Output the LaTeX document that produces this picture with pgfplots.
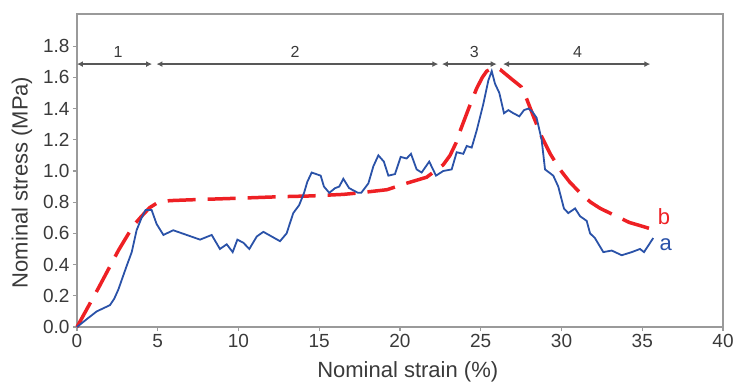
\documentclass[border=0pt]{standalone}
\usepackage{pgfplots}
\pgfplotsset{compat=1.18}
\usepackage{fontspec}
\setmainfont{Liberation Sans}
\usetikzlibrary{arrows.meta}
\definecolor{cblue}{HTML}{2A52A8}
\definecolor{cred}{HTML}{EE2024}
\definecolor{ctext}{HTML}{3A3A3A}
\definecolor{cframe}{HTML}{9A9A9A}
\begin{document}
\begin{tikzpicture}
\begin{axis}[
  at={(0,0)}, anchor=south west,
  scale only axis, width=646pt, height=313pt,
  xmin=0, xmax=40, ymin=0, ymax=2.006,
  xtick={0,5,...,40}, ytick={0,0.2,...,1.8},
  yticklabel style={/pgf/number format/.cd,fixed,fixed zerofill,precision=1},
  /pgf/number format/assume math mode=true,
  tick label style={font=\fontsize{19}{22}\selectfont, text=ctext},
  axis line style={cframe, line width=1.4pt},
  tick style={cframe, line width=1.2pt},
  tick align=outside, major tick length=4pt,
  xtick pos=bottom, ytick pos=left,
  xlabel={Nominal strain (\%)},
  ylabel={Nominal stress (MPa)},
  label style={font=\fontsize{22}{26}\selectfont, text=ctext},
  xlabel style={at={(axis description cs:0.512,-0.144)}, anchor=center},
  ylabel style={at={(axis description cs:-0.0851,0.462)}, anchor=center},
  clip=false,
]
\addplot[cred, line width=3.5pt, dash pattern=on 28pt off 12pt] coordinates {
(0,0)(1.33,0.25)(2.56,0.49)(3.49,0.65)(4.0,0.71)(4.5,0.765)(5.04,0.80)(5.76,0.81)
(7,0.815)(9.9,0.825)(12.57,0.835)(14.5,0.84)(16.5,0.85)(17.5,0.86)(19.2,0.88)
(20.2,0.915)(21.65,0.96)(22.68,1.04)(23.1,1.10)(23.47,1.18)(23.7,1.25)(24.25,1.40)
(24.75,1.53)(25.1,1.60)(25.37,1.64)(25.78,1.66)(26.2,1.65)(26.9,1.59)(27.5,1.54)
(27.85,1.46)(28.3,1.34)(28.77,1.22)(29.3,1.11)(29.9,1.01)(30.5,0.93)(31.15,0.86)
(31.8,0.80)(32.4,0.76)(33.0,0.73)(33.6,0.70)(34.2,0.67)(34.86,0.65)(35.5,0.63)(36.0,0.62)
};
\addplot[cblue, line width=1.8pt] coordinates {
(0,0)(0.6,0.05)(1.22,0.10)(2.04,0.14)(2.3,0.18)(2.56,0.24)(3.07,0.39)(3.39,0.48)
(3.69,0.62)(4.0,0.70)(4.25,0.75)(4.62,0.75)(4.93,0.66)(5.35,0.59)(5.96,0.62)
(6.79,0.59)(7.62,0.56)(8.34,0.59)(8.85,0.50)(9.27,0.53)(9.64,0.48)(9.93,0.56)
(10.30,0.54)(10.67,0.50)(11.13,0.58)(11.54,0.61)(12.57,0.55)(12.98,0.60)(13.39,0.73)
(13.75,0.78)(14.06,0.86)(14.26,0.93)(14.53,0.99)(15.09,0.97)(15.29,0.90)(15.62,0.86)
(15.98,0.89)(16.24,0.90)(16.49,0.95)(16.85,0.89)(17.4,0.86)(17.6,0.86)(18.04,0.92)
(18.35,1.03)(18.66,1.10)(19.0,1.06)(19.28,0.97)(19.69,0.98)(20.04,1.09)(20.41,1.08)
(20.68,1.11)(21.03,1.01)(21.34,0.99)(21.81,1.06)(22.23,0.97)(22.68,1.00)(23.2,1.01)
(23.51,1.12)(23.92,1.11)(24.13,1.16)(24.44,1.15)(24.75,1.26)(25.16,1.43)(25.47,1.58)
(25.68,1.64)(25.88,1.56)(26.15,1.50)(26.44,1.37)(26.71,1.39)(27.02,1.37)(27.39,1.35)
(27.68,1.39)(27.95,1.40)(28.2,1.38)(28.46,1.34)(28.77,1.20)(28.98,1.01)(29.49,0.97)
(29.8,0.90)(30.15,0.76)(30.42,0.73)(30.84,0.76)(31.15,0.71)(31.56,0.68)(31.77,0.60)
(32.07,0.57)(32.59,0.48)(33.11,0.49)(33.73,0.46)(34.35,0.48)(34.86,0.50)(35.11,0.48)
(35.68,0.57)
};
\begin{scope}[line width=1.2pt, draw=ctext!85, >={Latex[length=6pt,width=6pt]}]
\draw[<->] (axis cs:0,1.685) -- (axis cs:4.65,1.685);
\draw[<->] (axis cs:4.92,1.685) -- (axis cs:22.37,1.685);
\draw[<->] (axis cs:22.6,1.685) -- (axis cs:25.99,1.685);
\draw[<->] (axis cs:26.38,1.685) -- (axis cs:35.5,1.685);
\end{scope}
\begin{scope}[font=\fontsize{16}{18}\selectfont, text=ctext]
\node at (axis cs:2.55,1.76) {1};
\node at (axis cs:13.5,1.76) {2};
\node at (axis cs:24.6,1.76) {3};
\node at (axis cs:31.0,1.76) {4};
\end{scope}
\node[font=\fontsize{22}{26}\selectfont, text=cred] at (axis cs:36.35,0.71) {b};
\node[font=\fontsize{22}{26}\selectfont, text=cblue] at (axis cs:36.45,0.53) {a};
\end{axis}
\pgfresetboundingbox
\path[use as bounding box] (-77pt,-56pt) rectangle (656pt,327pt);
\end{tikzpicture}
\end{document}
